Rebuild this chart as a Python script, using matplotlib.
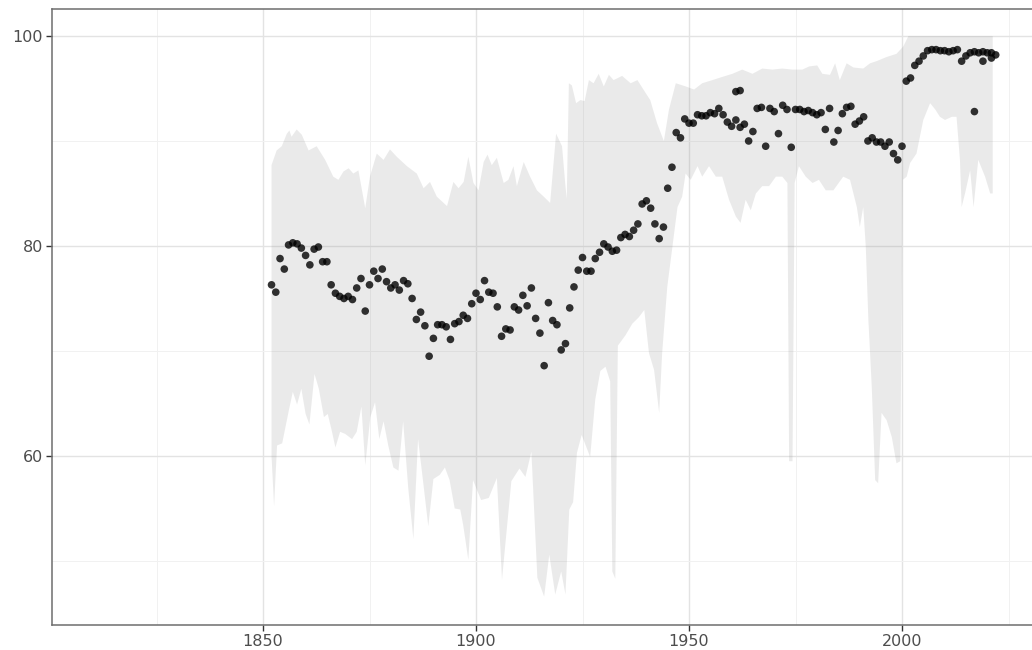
import matplotlib
matplotlib.use("Agg")
import matplotlib.pyplot as plt
import numpy as np

# ---- point data (year, value) ----
point_years = [
    1852, 1853, 1854, 1855, 1856, 1857, 1858, 1859, 1860, 1861,
    1862, 1863, 1864, 1865, 1866, 1867, 1868, 1869, 1870, 1871,
    1872, 1873, 1874, 1875, 1876, 1877, 1878, 1879, 1880, 1881,
    1882, 1883, 1884, 1885, 1886, 1887, 1888, 1889, 1890, 1891,
    1892, 1893, 1894, 1895, 1896, 1897, 1898, 1899, 1900, 1901,
    1902, 1903, 1904, 1905, 1906, 1907, 1908, 1909, 1910, 1911,
    1912, 1913, 1914, 1915, 1916, 1917, 1918, 1919, 1920, 1921,
    1922, 1923, 1924, 1925, 1926, 1927, 1928, 1929, 1930, 1931,
    1932, 1933, 1934, 1935, 1936, 1937, 1938, 1939, 1940, 1941,
    1942, 1943, 1944, 1945, 1946, 1947, 1948, 1949, 1950, 1951,
    1952, 1953, 1954, 1955, 1956, 1957, 1958, 1959, 1960, 1961,
    1961, 1962, 1962, 1963, 1964, 1965, 1966, 1967, 1968, 1969,
    1970, 1971, 1972, 1973, 1974, 1975, 1976, 1977, 1978, 1979,
    1980, 1981, 1982, 1983, 1984, 1985, 1986, 1987, 1988, 1989,
    1990, 1991, 1992, 1993, 1994, 1995, 1996, 1997, 1998, 1999,
    2000, 2001, 2002, 2003, 2004, 2005, 2006, 2007, 2008, 2009,
    2010, 2011, 2012, 2013, 2014, 2015, 2016, 2017, 2017, 2018,
    2019, 2019, 2020, 2021, 2021, 2022,
]
point_values = [
    76.3, 75.6, 78.8, 77.8, 80.1, 80.3, 80.2, 79.8, 79.1, 78.2,
    79.7, 79.9, 78.5, 78.5, 76.3, 75.5, 75.2, 75.0, 75.2, 74.9,
    76.0, 76.9, 73.8, 76.3, 77.6, 76.9, 77.8, 76.6, 76.0, 76.3,
    75.8, 76.7, 76.4, 75.0, 73.0, 73.7, 72.4, 69.5, 71.2, 72.5,
    72.5, 72.3, 71.1, 72.6, 72.8, 73.4, 73.1, 74.5, 75.5, 74.9,
    76.7, 75.6, 75.5, 74.2, 71.4, 72.1, 72.0, 74.2, 73.9, 75.3,
    74.3, 76.0, 73.1, 71.7, 68.6, 74.6, 72.9, 72.5, 70.1, 70.7,
    74.1, 76.1, 77.7, 78.9, 77.6, 77.6, 78.8, 79.4, 80.2, 79.9,
    79.5, 79.6, 80.8, 81.1, 80.9, 81.5, 82.1, 84.0, 84.3, 83.6,
    82.1, 80.7, 81.8, 85.5, 87.5, 90.8, 90.3, 92.1, 91.7, 91.7,
    92.5, 92.4, 92.4, 92.7, 92.6, 93.1, 92.5, 91.8, 91.4, 92.0,
    94.7, 91.3, 94.8, 91.6, 90.0, 90.9, 93.1, 93.2, 89.5, 93.1,
    92.8, 90.7, 93.4, 93.0, 89.4, 93.0, 93.0, 92.8, 92.9, 92.7,
    92.5, 92.7, 91.1, 93.1, 89.9, 91.0, 92.6, 93.2, 93.3, 91.6,
    91.9, 92.3, 90.0, 90.3, 89.9, 89.9, 89.5, 89.9, 88.8, 88.2,
    89.5, 95.7, 96.0, 97.2, 97.6, 98.1, 98.6, 98.7, 98.7, 98.6,
    98.6, 98.5, 98.6, 98.7, 97.6, 98.1, 98.4, 98.5, 92.8, 98.4,
    97.6, 98.5, 98.4, 98.4, 97.9, 98.2,
]

# ---- ribbon upper bound (year, value) ----
upper_years = [
    1852.0, 1853.2, 1854.4, 1855.6, 1856.2, 1856.7, 1857.9, 1859.1, 1860.7, 1862.6,
    1864.6, 1866.5, 1867.7, 1868.9, 1870.1, 1871.2, 1872.4, 1874.0, 1875.1, 1876.7,
    1878.3, 1879.8, 1881.4, 1883.8, 1886.1, 1887.7, 1889.2, 1890.8, 1893.2, 1894.7,
    1895.9, 1897.1, 1898.2, 1899.4, 1900.6, 1901.8, 1902.7, 1903.7, 1904.9, 1906.5,
    1907.6, 1908.8, 1909.6, 1911.2, 1912.7, 1914.3, 1915.9, 1917.4, 1918.8, 1920.2,
    1921.0, 1921.3, 1921.8, 1922.5, 1923.5, 1924.5, 1925.5, 1926.5, 1927.6, 1928.8,
    1930.0, 1931.2, 1932.3, 1934.3, 1936.3, 1937.9, 1939.3, 1940.9, 1942.5, 1944.1,
    1945.3, 1946.9, 1949.2, 1951.2, 1953.1, 1955.5, 1957.8, 1960.2, 1962.5, 1964.9,
    1967.2, 1969.6, 1971.9, 1974.3, 1976.6, 1978.2, 1980.1, 1981.3, 1983.1, 1984.3,
    1985.4, 1987.0, 1988.6, 1990.9, 1992.5, 1994.0, 1996.4, 1998.7, 2000.3, 2001.5,
    2021.3,
]
upper_values = [
    87.7, 89.1, 89.5, 90.7, 91.0, 90.4, 91.1, 90.6, 89.1, 89.5,
    88.2, 86.6, 86.3, 87.1, 87.4, 86.9, 87.2, 83.6, 86.6, 88.8,
    88.2, 89.2, 88.5, 87.6, 86.9, 85.5, 86.1, 84.7, 83.8, 86.1,
    85.5, 86.1, 88.5, 86.0, 85.3, 88.0, 88.7, 87.7, 88.4, 86.0,
    86.3, 87.6, 85.7, 88.0, 86.6, 85.3, 84.7, 84.1, 90.7, 89.5,
    85.7, 84.5, 95.5, 95.3, 93.6, 93.9, 93.8, 95.8, 95.5, 96.4,
    95.2, 96.3, 95.8, 96.2, 95.5, 95.8, 94.9, 93.9, 91.7, 90.0,
    93.0, 95.5, 95.2, 94.9, 95.5, 95.8, 96.1, 96.4, 96.8, 96.4,
    96.9, 96.8, 96.9, 96.8, 96.8, 97.1, 97.2, 96.4, 96.3, 97.4,
    95.8, 97.4, 97.0, 96.9, 97.4, 97.6, 98.0, 98.3, 99.0, 100.0,
    100.0,
]

# ---- ribbon lower bound (year, value) ----
lower_years = [
    1852.0, 1852.6, 1853.3, 1854.5, 1856.1, 1857.0, 1858.0, 1859.0, 1860.0, 1860.9,
    1862.1, 1863.1, 1864.3, 1865.2, 1866.2, 1867.0, 1868.1, 1869.3, 1870.9, 1872.0,
    1873.1, 1874.0, 1875.2, 1876.3, 1877.3, 1878.3, 1879.4, 1880.6, 1881.8, 1882.9,
    1884.1, 1885.3, 1886.4, 1887.6, 1888.8, 1890.0, 1891.5, 1892.7, 1893.8, 1895.0,
    1896.3, 1897.0, 1898.2, 1899.3, 1901.2, 1903.0, 1904.9, 1906.1, 1908.3, 1910.2,
    1911.6, 1913.0, 1914.4, 1916.0, 1917.2, 1918.6, 1920.0, 1921.0, 1921.9, 1922.8,
    1923.7, 1924.8, 1926.8, 1928.0, 1929.2, 1930.4, 1931.5, 1932.0, 1932.7, 1933.3,
    1935.1, 1936.7, 1938.2, 1939.5, 1940.6, 1941.8, 1943.0, 1943.7, 1944.9, 1946.1,
    1947.3, 1948.4, 1949.2, 1950.4, 1952.0, 1953.1, 1954.7, 1956.3, 1957.8, 1959.4,
    1961.0, 1962.1, 1963.3, 1964.5, 1965.7, 1967.2, 1968.8, 1970.4, 1971.9, 1973.1,
    1973.5, 1974.3, 1974.8, 1975.8, 1977.4, 1979.0, 1980.5, 1982.1, 1983.9, 1986.2,
    1987.8, 1989.4, 1990.1, 1990.9, 1991.5, 1992.1, 1992.9, 1993.7, 1994.4, 1995.2,
    1996.4, 1997.6, 1998.7, 1999.6, 2000.2, 2001.1, 2001.9, 2003.4, 2005.0, 2006.6,
    2007.8, 2008.9, 2010.1, 2011.7, 2012.8, 2013.6, 2014.0, 2014.8, 2016.0, 2016.8,
    2017.9, 2019.5, 2020.7, 2021.3,
]
lower_values = [
    60.0, 55.2, 61.0, 61.2, 64.4, 66.1, 64.9, 66.4, 64.0, 63.0,
    67.8, 66.4, 63.7, 64.0, 62.3, 60.8, 62.3, 62.1, 61.6, 62.3,
    64.7, 59.1, 63.7, 65.1, 61.6, 63.3, 61.0, 58.9, 58.6, 63.3,
    56.9, 52.1, 61.6, 57.5, 53.3, 57.8, 58.2, 58.9, 57.7, 55.0,
    54.9, 53.4, 50.1, 57.7, 55.8, 56.0, 57.9, 48.2, 57.6, 58.8,
    58.0, 60.4, 48.4, 46.6, 50.6, 46.8, 49.0, 46.8, 54.9, 55.6,
    60.3, 62.0, 59.9, 65.4, 68.1, 68.5, 67.1, 49.0, 48.3, 70.5,
    71.5, 72.6, 73.2, 73.9, 69.8, 68.2, 64.1, 69.8, 76.1, 79.9,
    83.7, 84.7, 86.9, 86.3, 87.6, 86.6, 87.6, 86.6, 86.6, 84.4,
    82.8, 82.2, 84.4, 83.4, 85.0, 85.7, 85.7, 86.6, 86.6, 86.0,
    59.5, 59.5, 86.0, 87.6, 86.6, 86.0, 86.3, 85.3, 85.3, 86.6,
    86.3, 83.7, 81.8, 83.7, 79.9, 73.0, 66.6, 57.7, 57.4, 64.1,
    63.4, 61.8, 59.3, 59.5, 86.3, 86.6, 87.9, 88.8, 92.0, 93.6,
    93.0, 92.3, 92.0, 92.3, 92.3, 88.2, 83.7, 85.0, 87.2, 83.7,
    88.2, 86.6, 85.0, 85.0,
]

x_major = [1850, 1900, 1950, 2000]
x_minor = [1825, 1875, 1925, 1975, 2025]
y_major = [60, 80, 100]
y_minor = [50, 70, 90]

W, H = 1032, 650
fig = plt.figure(figsize=(W / 100, H / 100), dpi=100)
fig.patch.set_facecolor("white")

px_per_year = 4.26
left_px, bottom_px, top_px = 52, 25, 9
ax_w_px = 1040
ax = fig.add_axes([left_px / W, bottom_px / H, ax_w_px / W, (H - bottom_px - top_px) / H])
x0 = 1850 - (263 - left_px) / px_per_year
ax.set_xlim(x0, x0 + ax_w_px / px_per_year)
ax.set_ylim(43.9, 102.57)

ax.set_axisbelow(True)
ax.set_xticks(x_major)
ax.set_xticks(x_minor, minor=True)
ax.set_yticks(y_major)
ax.set_yticks(y_minor, minor=True)
ax.grid(which="major", color="#E3E3E3", linewidth=1.0)
ax.grid(which="minor", color="#F1F1F1", linewidth=0.7)

# ribbon polygon
rx = np.concatenate([np.array(upper_years), np.array(lower_years)[::-1]])
ry = np.concatenate([np.array(upper_values), np.array(lower_values)[::-1]])
ax.fill(rx, ry, facecolor="#808080", alpha=0.16, edgecolor="none", zorder=2)

ax.scatter(point_years, point_values, s=30, color="black", alpha=0.8,
           edgecolors="none", zorder=3)

for s in ax.spines.values():
    s.set_color("#6E6E6E")
    s.set_linewidth(1.1)

ax.tick_params(which="major", length=4, width=1.0, color="#333333",
               labelcolor="#4D4D4D", labelsize=11.5, pad=2.5)
ax.tick_params(which="minor", length=0)
ax.set_xticklabels([str(v) for v in x_major])
ax.set_yticklabels([str(v) for v in y_major])

fig.savefig("out.png", dpi=100, facecolor="white")
